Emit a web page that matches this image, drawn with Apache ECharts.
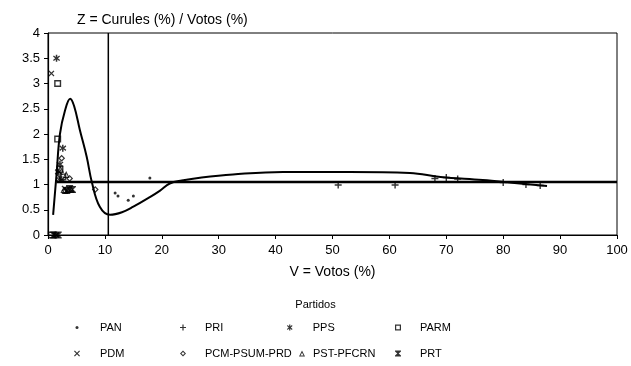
<!DOCTYPE html>
<html>
<head>
<meta charset="utf-8">
<script src="https://cdn.jsdelivr.net/npm/echarts@6/dist/echarts.min.js"></script>
<style>
  html, body { margin: 0; padding: 0; background: #fff; }
  #main { width: 631px; height: 366px; }
</style>
</head>
<body>
<div id="main"></div>
<script>
  var partidos = ['PAN', 'PRI', 'PPS', 'PARM', 'PDM', 'PCM-PSUM-PRD', 'PST-PFCRN', 'PRT'];

  // puntos [V, Z] por partido
  var ptsPAN = [[11.8, 0.83], [12.3, 0.77], [14.1, 0.69], [15.0, 0.77], [17.9, 1.13]];
  var ptsPRI = [[51, 0.99], [61, 0.99], [68, 1.12], [70, 1.14], [72, 1.11], [80, 1.04], [84, 1.0], [86.5, 0.98]];
  var ptsPPS = [[1.5, 3.5], [2.6, 1.72], [2.1, 1.4], [1.3, 0], [1.8, 1.25], [2.4, 1.1]];
  var ptsPARM = [[1.7, 3.0], [1.7, 1.9], [0.6, 0], [2.1, 1.3], [2.6, 1.15]];
  var ptsPDM = [[0.6, 3.2], [1.5, 0], [1.9, 1.1], [2.9, 0.92]];
  var ptsPCM = [[2.4, 1.52], [3.8, 1.12], [8.3, 0.9], [2.0, 1.2]];
  var ptsPST = [[3.2, 1.2], [2.8, 0.9], [3.5, 0.9], [4.1, 0.9], [2.2, 1.3], [3.0, 0.88]];
  var ptsPRT = [[1.0, 0], [3.3, 0.88], [3.8, 0.92], [1.8, 0], [4.3, 0.9]];

  // curva ajustada
  var curva = [[0.9, 0.4], [1.5, 1.2], [2.1, 2.0], [3.0, 2.47], [3.9, 2.7], [4.6, 2.55], [5.6, 2.08],
    [6.8, 1.55], [7.7, 1.05], [9.1, 0.56], [10.9, 0.4], [13, 0.45], [15, 0.56], [17.9, 0.75],
    [19.7, 0.88], [21.4, 1.02], [23.5, 1.08], [27, 1.14], [32.5, 1.2], [41.3, 1.25], [53, 1.25], [63.6, 1.23],
    [69, 1.15], [76.4, 1.09], [82, 1.03], [87.7, 0.97]];
  var lineaUno = [[1.5, 1.05], [100, 1.05]];
  var lineaDiez = [[10.6, 0], [10.6, 4]];

  var pathPlus = 'path://M4,0H6V4H10V6H6V10H4V6H0V4H4Z';
  var pathCross = 'path://M1.4,0L5,3.6L8.6,0L10,1.4L6.4,5L10,8.6L8.6,10L5,6.4L1.4,10L0,8.6L3.6,5L0,1.4Z';
  var pathStar = 'path://M4,0H6V3.3L8.6,1L9.6,2.6L6.8,5L9.6,7.4L8.6,9L6,6.7V10H4V6.7L1.4,9L0.4,7.4L3.2,5L0.4,2.6L1.4,1L4,3.3Z';
  var pathHour = 'path://M0,0H10V1.5L6.2,5L10,8.5V10H0V8.5L3.8,5L0,1.5Z';
  var pathRect = 'path://M0,0H10V10H0Z M2,2V8H8V2Z';
  var pathDiam = 'path://M5,0L10,5L5,10L0,5Z M5,2.4L2.4,5L5,7.6L7.6,5Z';
  var pathTri = 'path://M5,0L10,10H0Z M5,3.6L2.4,8.5H7.6Z';

  var simbolos = ['circle', pathPlus, pathStar, pathRect, pathCross, pathDiam, pathTri, pathHour];
  var tamanos = [3, 7, 7, 7, 6, 7, 7, 7];
  var datos = [ptsPAN, ptsPRI, ptsPPS, ptsPARM, ptsPDM, ptsPCM, ptsPST, ptsPRT];

  // posiciones de la leyenda: [marca x, texto x, y]
  var leyPos = [[77, 100, 329], [183, 205, 329], [290, 313, 329], [398, 420, 329],
    [77, 100, 355], [183, 205, 355], [302, 313, 355], [398, 420, 355]];

  var series = [];
  for (var i = 0; i < partidos.length; i++) {
    series.push({
      name: partidos[i],
      type: 'scatter',
      symbol: simbolos[i],
      symbolSize: tamanos[i],
      itemStyle: { color: '#000' },
      data: datos[i],
      z: 3
    });
  }
  series.push({
    type: 'line', data: curva, smooth: 0.4, symbol: 'none',
    lineStyle: { color: '#000', width: 2 }, z: 2
  });
  series.push({
    type: 'line', data: lineaUno, symbol: 'none',
    lineStyle: { color: '#000', width: 2.5 }, z: 2
  });
  series.push({
    type: 'line', data: lineaDiez, symbol: 'none',
    lineStyle: { color: '#000', width: 1.5 }, z: 2
  });

  var legends = [];
  for (var j = 0; j < partidos.length; j++) {
    var s = tamanos[j] < 5 ? 3 : 6;
    var pad = leyPos[j][1] - leyPos[j][0] - s / 2 - 5;
    legends.push({
      data: [partidos[j]],
      left: leyPos[j][0] - s / 2,
      top: leyPos[j][2] - 7,
      padding: 0,
      itemWidth: s,
      itemHeight: s,
      icon: simbolos[j],
      selectedMode: false,
      textStyle: { fontFamily: 'Liberation Sans', fontSize: 11, color: '#000', padding: [0, 0, 0, pad] }
    });
  }

  var option = {
    backgroundColor: '#fff',
    animation: false,
    title: [
      { text: 'Z = Curules (%) / Votos (%)', left: 72, top: 8,
        textStyle: { fontFamily: 'Liberation Sans', fontSize: 14, fontWeight: 'normal', color: '#000' } },
      { text: 'Partidos', left: 'center', top: 294,
        textStyle: { fontFamily: 'Liberation Sans', fontSize: 11, fontWeight: 'normal', color: '#000' } }
    ],
    legend: legends,
    grid: { left: 48, right: 14, top: 33, bottom: 131, show: true, borderColor: '#000', borderWidth: 1 },
    xAxis: {
      type: 'value', min: 0, max: 100, interval: 10,
      name: 'V = Votos (%)', nameLocation: 'middle', nameGap: 30,
      nameTextStyle: { fontFamily: 'Liberation Sans', fontSize: 14, color: '#000' },
      axisLine: { lineStyle: { color: '#000', width: 1.2 } },
      axisTick: { length: 4, lineStyle: { color: '#000' } },
      axisLabel: { fontFamily: 'Liberation Sans', fontSize: 13, color: '#000', margin: 9 },
      splitLine: { show: false }
    },
    yAxis: {
      type: 'value', min: 0, max: 4, interval: 0.5,
      axisLine: { show: true, lineStyle: { color: '#000', width: 1.2 } },
      axisTick: { show: true, length: 4, lineStyle: { color: '#000' } },
      axisLabel: { fontFamily: 'Liberation Sans', fontSize: 13, color: '#000', margin: 8 },
      splitLine: { show: false }
    },
    series: series
  };

  var chart = echarts.init(document.getElementById('main'));
  chart.setOption(option);
</script>
</body>
</html>
